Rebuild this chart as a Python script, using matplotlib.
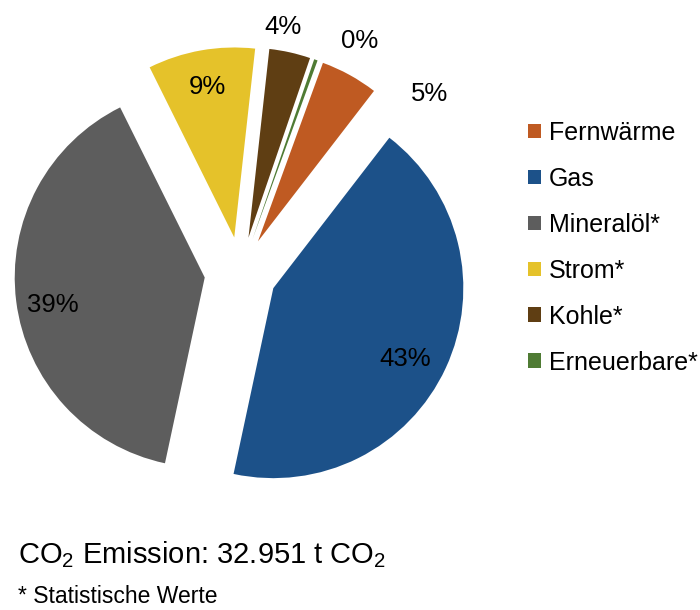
import numpy as np
import matplotlib
matplotlib.use("Agg")
import matplotlib.pyplot as plt
from matplotlib.transforms import offset_copy

plt.rcParams['font.family'] = ['Liberation Sans', 'DejaVu Sans']
plt.rcParams['mathtext.default'] = 'regular'

# CO2-Anteile nach Energieträger (Prozent)
traeger = ['Fernwärme', 'Gas', 'Mineralöl*', 'Strom*', 'Kohle*', 'Erneuerbare*']
anteile = [4.9, 42.9, 39.3, 9.1, 3.5, 0.3]
farben = ['#BF5A22', '#1C5189', '#5D5D5D', '#E5C22A', '#5F3E13', '#4F7B34']

# label placement: distance (in radii) and angular shift (deg, clockwise)
lbl_dist = [1.20, 0.78, 0.81, 0.82, 1.14, 1.20]
lbl_shift = [20, 2.3, -2, 0, -3.5, 8.5]

fig = plt.figure(figsize=(7, 6.1), dpi=100)
ax = fig.add_axes([0, 0, 1, 1])

wedges, _ = ax.pie(anteile, colors=farben, startangle=70, counterclock=False,
                   explode=[0.19] * len(anteile), radius=1.0)

lbl_trans = offset_copy(ax.transData, fig=fig, y=-3, units='dots')
for w, val, d, s in zip(wedges, anteile, lbl_dist, lbl_shift):
    th = np.deg2rad((w.theta1 + w.theta2) / 2 - s)
    cx, cy = w.center
    ax.text(cx + d * np.cos(th), cy + d * np.sin(th), f"{val:.0f}%",
            ha='center', va='center', fontsize=18.5, color='black',
            transform=lbl_trans)

ax.set_xlim(-1.266, 2.418)
ax.set_ylim(-1.774, 1.437)
ax.set_aspect('auto')
ax.axis('off')

fig.legend(wedges, traeger, loc='upper left', bbox_to_anchor=(528 / 700, 1 - 121 / 610),
           frameon=False, fontsize=18, handlelength=0.52, handleheight=0.52,
           handletextpad=0.32, labelspacing=0.876, borderpad=0, borderaxespad=0)

fig.text(18 / 700, 1 - 563 / 610, 'CO$_2$ Emission: 32.951 t CO$_2$',
         fontsize=21, ha='left', va='baseline')
fig.text(18 / 700, 1 - 608 / 610, '* Statistische Werte',
         fontsize=16.5, ha='left', va='bottom')

fig.savefig('out.png', dpi=100)
